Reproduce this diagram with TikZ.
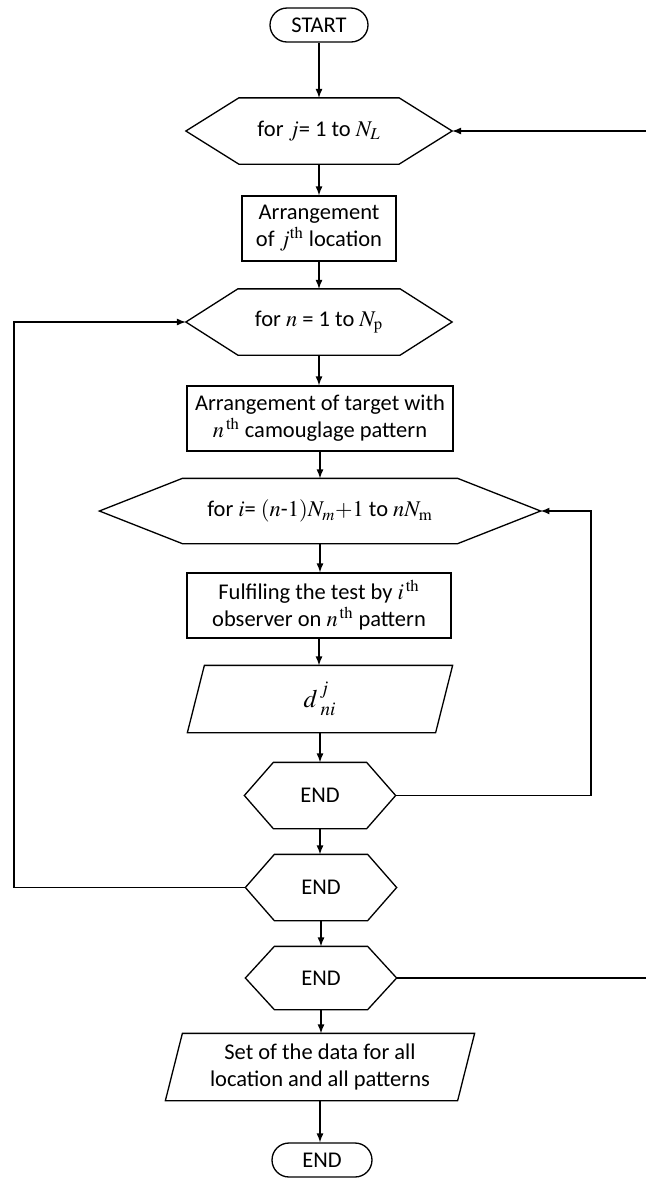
\documentclass[tikz,border=0pt]{standalone}
\usepackage{mathptmx}
\usepackage[no-math]{fontspec}
\setmainfont{Carlito}
\usetikzlibrary{shapes.misc}
\tikzset{
  every node/.style={font=\fontsize{12.8}{15.4}\selectfont, align=center, inner sep=0pt},
  term/.style={rounded rectangle, draw, minimum height=0.68cm},
  loophex/.style={minimum height=1.3cm},
  procbox/.style={draw, minimum height=1.3cm},
  iobox/.style={minimum height=1.32cm}
}
\newcommand\hexa[2]{\draw (#1.west) -- ([xshift=#2]#1.north west) -- ([xshift=-#2]#1.north east) -- (#1.east) -- ([xshift=-#2]#1.south east) -- ([xshift=#2]#1.south west) -- cycle;}
\newcommand\para[1]{\draw ([xshift=0.34cm]#1.north west) -- (#1.north east) -- ([xshift=-0.34cm]#1.south east) -- (#1.south west) -- cycle;}
\begin{document}
\begin{tikzpicture}[x=0.02cm,y=-0.02cm,line width=0.75pt]
\useasboundingbox (0,0) rectangle (646,1178);
\node[term,minimum width=1.96cm] (start) at(319,25) {START};
\node[loophex,minimum width=5.3cm] (for1) at(319,131) {for $j$= 1 to $N_L$};
\node[procbox,minimum width=3.08cm] (loc) at(319,228.5) {Arrangement\\of $j^{\rm th}$ location};
\node[loophex,minimum width=5.3cm] (for2) at(319,322) {for $n$ = 1 to $N_{\rm p}$};
\node[procbox,minimum width=5.32cm] (tgt) at(320,418.5) {Arrangement of target with\\$n^{\rm\,th}$ camouglage pattern};
\node[loophex,minimum width=8.8cm,minimum height=1.28cm] (for3) at(320,511) {for $i$= $(n\mbox{-}1)N_m{+}1$ to $nN_{\rm m}$};
\node[procbox,minimum width=5.28cm] (obs) at(319,605.5) {Fulfiling the test by $i^{\rm\,th}$\\observer on $n^{\rm\,th}$ pattern};
\node[iobox,minimum width=5.28cm] (dji) at(320,699) {\Large$d^{\,j}_{\;ni}$};
\node[loophex,minimum width=3cm] (end1) at(320,795.5) {END};
\node[loophex,minimum width=3cm] (end2) at(321,887.5) {END};
\node[loophex,minimum width=3cm,minimum height=1.24cm] (end3) at(321,978) {END};
\node[iobox,minimum width=6.16cm] (data) at(320,1067) {Set of the data for all\\location and all patterns};
\node[term,minimum width=2cm] (stop) at(322,1160) {END};
\hexa{for1}{1.06cm}
\hexa{for2}{1.04cm}
\hexa{for3}{1.66cm}
\hexa{end1}{0.58cm}
\hexa{end2}{0.58cm}
\hexa{end3}{0.58cm}
\para{dji}
\para{data}
\foreach \a/\b in {start/for1,for1/loc,loc/for2,for2/tgt,tgt/for3,for3/obs,obs/dji,dji/end1,end1/end2,end2/end3,end3/data,data/stop}
  \draw [-latex] (\a.south)--(\a.south|-\b.north);
\draw [-latex] (end1.east)--(591,795.5)|-(for3.east);
\draw [-latex] (end2.west)--(14,887.5)|-(for2.west);
\draw [-latex] (end3.east)--(652,978)|-(for1.east);
\end{tikzpicture}
\end{document}
